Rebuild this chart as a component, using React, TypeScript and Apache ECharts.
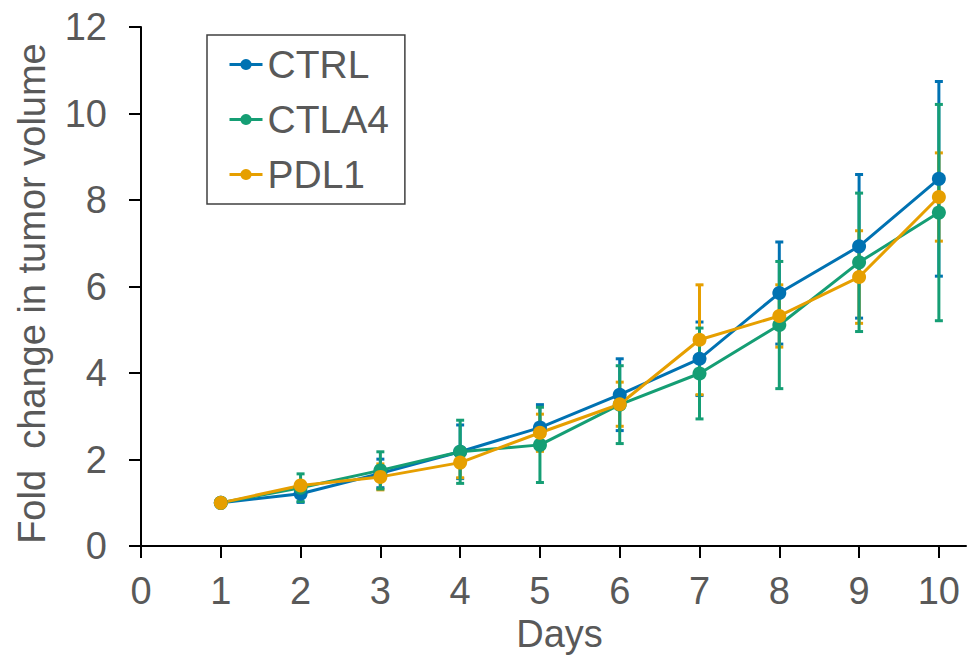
import React, { useEffect, useRef } from "react";
import * as echarts from "echarts";

const days = [1, 2, 3, 4, 5, 6, 7, 8, 9, 10];
const xTickValues = [0, 1, 2, 3, 4, 5, 6, 7, 8, 9, 10];

const ctrlMean = [1.0, 1.21, 1.68, 2.18, 2.74, 3.5, 4.33, 5.85, 6.93, 8.49];
const ctrlSd = [0, 0.2, 0.33, 0.62, 0.53, 0.83, 0.85, 1.18, 1.66, 2.25];

const ctla4Mean = [1.0, 1.35, 1.75, 2.18, 2.34, 3.27, 3.99, 5.11, 6.56, 7.71];
const ctla4Sd = [0, 0.32, 0.43, 0.73, 0.87, 0.9, 1.05, 1.47, 1.6, 2.5];

const pdl1Mean = [1.0, 1.4, 1.6, 1.93, 2.62, 3.28, 4.77, 5.32, 6.22, 8.07];
const pdl1Sd = [0, 0.1, 0.3, 0.35, 0.43, 0.51, 1.27, 0.72, 1.07, 1.02];

const BLUE = "#0072B2";
const GREEN = "#159E74";
const ORANGE = "#E69F00";
const TEXT = "#595959";
const FONT = "'Liberation Sans', Arial, sans-serif";

function lineData(mean: number[]) {
  return days.map((d, i) => [d, mean[i]]);
}
function errData(mean: number[], sd: number[]) {
  return days.map((d, i) => [d, mean[i] - sd[i], mean[i] + sd[i]]);
}

function errSeries(name: string, mean: number[], sd: number[], color: string) {
  return {
    type: "custom",
    name,
    coordinateSystem: "cartesian2d",
    data: errData(mean, sd),
    encode: { x: 0, y: [1, 2] },
    renderItem: (params: any, api: any) => {
      const x = api.value(0);
      const lo = api.coord([x, api.value(1)]);
      const hi = api.coord([x, api.value(2)]);
      const hw = 4;
      const style = { stroke: color, lineWidth: 3 };
      return {
        type: "group",
        children: [
          { type: "line", shape: { x1: lo[0], y1: lo[1], x2: hi[0], y2: hi[1] }, style },
          { type: "line", shape: { x1: lo[0] - hw, y1: lo[1], x2: lo[0] + hw, y2: lo[1] }, style },
          { type: "line", shape: { x1: hi[0] - hw, y1: hi[1], x2: hi[0] + hw, y2: hi[1] }, style },
        ],
      };
    },
    silent: true,
  };
}

function lineSeries(name: string, mean: number[], color: string) {
  return {
    type: "line",
    name,
    data: lineData(mean),
    symbol: "circle",
    symbolSize: 14,
    itemStyle: { color },
    lineStyle: { color, width: 3 },
  };
}

export default function App() {
  const ref = useRef<HTMLDivElement>(null);
  useEffect(() => {
    if (!ref.current) return;
    const chart = echarts.init(ref.current, undefined, { renderer: "svg" });
    chart.setOption({
      animation: false,
      backgroundColor: "#ffffff",
      textStyle: { fontFamily: FONT },
      grid: { left: 141, right: 3, top: 27, bottom: 110, containLabel: false },
      legend: {
        data: ["CTRL", "CTLA4", "PDL1"],
        orient: "vertical",
        left: 207,
        top: 35,
        padding: [10, 16, 10, 21],
        itemGap: 16,
        itemWidth: 33,
        itemHeight: 14,
        itemTextGap: 0,
        lineStyle: { width: 3 },
        borderColor: "#404040",
        borderWidth: 1.5,
        borderRadius: 0,
        backgroundColor: "#ffffff",
        textStyle: { fontSize: 39, color: TEXT, fontFamily: FONT },
      },
      xAxis: {
        type: "value",
        min: 0,
        max: 10.34,
        interval: 1,
        splitLine: { show: false },
        axisLine: { show: true, lineStyle: { color: "#000", width: 2 } },
        axisTick: { show: true, length: 12, lineStyle: { color: "#000", width: 2 }, customValues: xTickValues },
        axisLabel: { color: TEXT, fontSize: 38, margin: 26, fontFamily: FONT, customValues: xTickValues },
        name: "Days",
        nameLocation: "middle",
        nameGap: 64,
        nameTextStyle: { color: TEXT, fontSize: 38, fontFamily: FONT, padding: [0, 0, 0, 12] },
      },
      yAxis: {
        type: "value",
        min: 0,
        max: 12,
        interval: 2,
        splitLine: { show: false },
        axisLine: { show: true, lineStyle: { color: "#000", width: 2 } },
        axisTick: { show: true, length: 12, lineStyle: { color: "#000", width: 2 } },
        axisLabel: { color: TEXT, fontSize: 38, margin: 34, fontFamily: FONT },
        name: "Fold  change in tumor volume",
        nameLocation: "middle",
        nameGap: 90,
        nameTextStyle: { color: TEXT, fontSize: 38, fontFamily: FONT, padding: [0, 14, 0, 0] },
      },
      series: [
        errSeries("CTRL err", ctrlMean, ctrlSd, BLUE),
        errSeries("PDL1 err", pdl1Mean, pdl1Sd, ORANGE),
        errSeries("CTLA4 err", ctla4Mean, ctla4Sd, GREEN),
        lineSeries("CTRL", ctrlMean, BLUE),
        lineSeries("CTLA4", ctla4Mean, GREEN),
        lineSeries("PDL1", pdl1Mean, ORANGE),
      ],
    });
    return () => chart.dispose();
  }, []);
  return (
    <div
      ref={ref}
      style={{ position: "fixed", left: 0, top: 0, width: 969, height: 658, background: "#fff" }}
    />
  );
}
